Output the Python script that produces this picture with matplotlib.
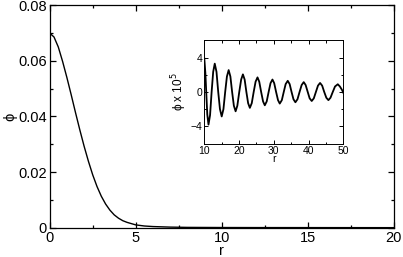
import matplotlib
matplotlib.use("Agg")
import matplotlib.pyplot as plt
from matplotlib.ticker import MultipleLocator

plt.rcParams["font.family"] = ["Liberation Sans", "DejaVu Sans"]

# main curve: phi(r)
r_main = [0.0, 0.25, 0.5, 0.75, 1.0, 1.25, 1.5, 1.75, 2.0, 2.25, 2.5, 2.75,
          3.0, 3.25, 3.5, 3.75, 4.0, 4.25, 4.5, 5.0, 5.5, 6.0, 7.0, 8.0,
          10.0, 12.0, 15.0, 20.0]
phi_main = [0.0700, 0.0686, 0.0650, 0.0598, 0.0540, 0.0478, 0.0414, 0.0352,
            0.0293, 0.0239, 0.0190, 0.0148, 0.0113, 0.0085, 0.0063, 0.0046,
            0.0034, 0.0025, 0.0019, 0.0010, 0.0006, 0.0004, 0.0002, 0.0001,
            0.00005, 0.00003, 0.00002, 0.0]

# inset: tail of phi (x 1e5), read at extrema / zero crossings
r_tail = [10.0, 10.3, 10.55, 10.85, 11.2, 11.65, 12.1, 12.55, 13.0, 13.5,
          14.0, 14.5, 15.0, 15.5, 16.0, 16.5, 17.0, 17.5, 18.0, 18.5, 19.0,
          19.5, 20.05, 20.6, 21.1, 21.6, 22.1, 22.6, 23.1, 23.65, 24.2, 24.75,
          25.3, 25.8, 26.35, 26.9, 27.4, 27.95, 28.5, 29.05, 29.6, 30.1,
          30.65, 31.2, 31.7, 32.3, 32.85, 33.4, 34.0, 34.55, 35.1, 35.65,
          36.2, 36.8, 37.4, 38.0, 38.6, 39.15, 39.75, 40.3, 40.9, 41.5, 42.1,
          42.7, 43.3, 43.9, 44.5, 45.1, 45.7, 46.3, 46.95, 47.6, 48.4, 49.0,
          49.6, 50.0]
phi_tail = [3.9, 2.2, 0.0, -2.6, -3.8, -2.7, 0.0, 2.35, 3.3, 2.35,
            0.0, -2.0, -2.85, -2.0, 0.0, 1.8, 2.55, 1.8, 0.0, -1.6, -2.25,
            -1.6, 0.0, 1.45, 2.05, 1.45, 0.0, -1.3, -1.85, -1.3, 0.0, 1.2,
            1.7, 1.2, 0.0, -1.1, -1.55, -1.1, 0.0, 1.03, 1.45, 1.03,
            0.0, -0.95, -1.35, -0.95, 0.0, 0.92, 1.3, 0.92, 0.0, -0.85,
            -1.2, -0.85, 0.0, 0.81, 1.15, 0.81, 0.0, -0.74, -1.05, -0.74, 0.0,
            0.74, 1.05, 0.74, 0.0, -0.67, -0.95, -0.67, 0.0, 0.64, 0.9, 0.64,
            0.25, -0.1]


def style_axes(ax, major_len, minor_len, width):
    ax.tick_params(which="both", direction="in", top=True, right=True,
                   width=width)
    ax.tick_params(which="major", length=major_len)
    ax.tick_params(which="minor", length=minor_len)
    for sp in ax.spines.values():
        sp.set_linewidth(width)


fig = plt.figure(figsize=(4.03, 2.57), dpi=100)

ax = fig.add_axes([0.1233, 0.1109, 0.854, 0.8685])
ax.plot(r_main, phi_main, color="black", lw=1.0)
ax.set_xlim(0, 20)
ax.set_ylim(-0.0003, 0.08)
ax.xaxis.set_major_locator(MultipleLocator(5))
ax.xaxis.set_minor_locator(MultipleLocator(2.5))
ax.yaxis.set_major_locator(MultipleLocator(0.02))
ax.yaxis.set_minor_locator(MultipleLocator(0.01))
ax.xaxis.set_major_formatter(lambda v, p: f"{v:g}")
ax.yaxis.set_major_formatter(lambda v, p: f"{v:g}")
style_axes(ax, 4, 2.5, 0.9)
ax.tick_params(labelsize=10.5, pad=2)
ax.set_xlabel("r", fontsize=10.5, labelpad=-1)
ax.set_ylabel("\u03d5", fontsize=10.5, labelpad=1)

ins = fig.add_axes([0.507, 0.4416, 0.345, 0.401])
ins.plot(r_tail, phi_tail, color="black", lw=1.3)
ins.set_xlim(10, 50)
ins.set_ylim(-6, 6)
ins.xaxis.set_major_locator(MultipleLocator(10))
ins.xaxis.set_minor_locator(MultipleLocator(5))
ins.yaxis.set_major_locator(MultipleLocator(4))
ins.yaxis.set_minor_locator(MultipleLocator(2))
style_axes(ins, 3, 1.8, 0.7)
ins.tick_params(labelsize=7.5, pad=1.5)
ins.set_xlabel("r", fontsize=7.5, labelpad=-1)
ins.set_ylabel("\u03d5 x 10$^5$", fontsize=8.5, labelpad=1)

fig.savefig("out.png", dpi=100)
